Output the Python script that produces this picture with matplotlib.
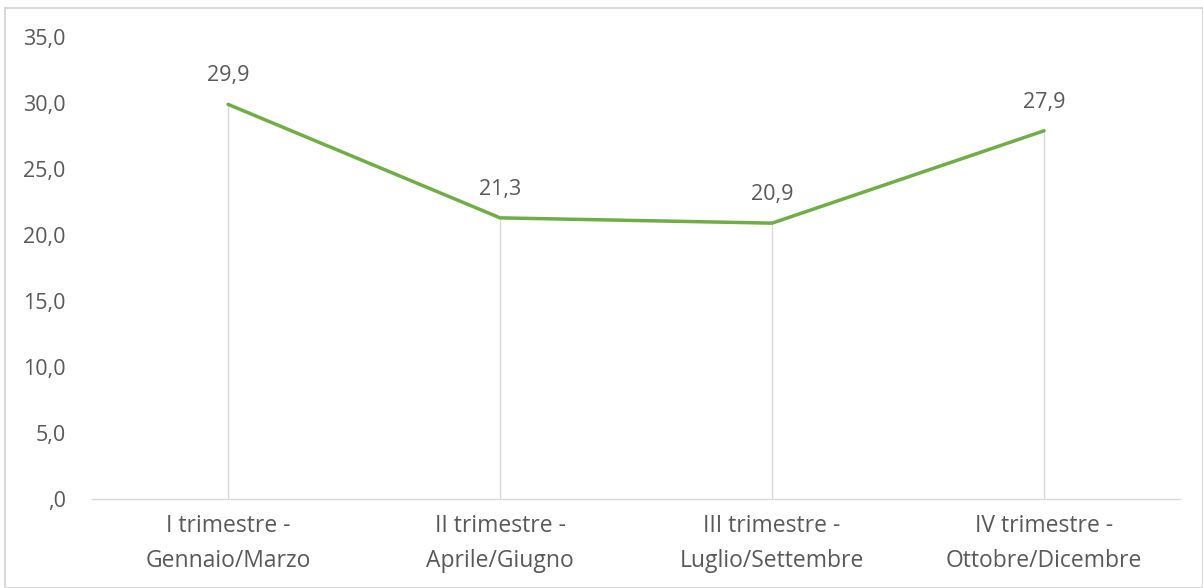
import matplotlib.pyplot as plt
from matplotlib.patches import Rectangle

plt.rcParams['font.family'] = ['Open Sans', 'DejaVu Sans']

categories = ['I trimestre -\nGennaio/Marzo', 'II trimestre -\nAprile/Giugno',
              'III trimestre -\nLuglio/Settembre', 'IV trimestre -\nOttobre/Dicembre']
values = [29.9, 21.3, 20.9, 27.9]
yticks = [0, 5, 10, 15, 20, 25, 30, 35]
ytick_labels = [',0', '5,0', '10,0', '15,0', '20,0', '25,0', '30,0', '35,0']

text_col = '#595959'
grid_col = '#D9D9D9'
green = '#70AD47'
fs = 15.5

fig = plt.figure(figsize=(12.03, 5.88), dpi=100)
ax = fig.add_axes([0.0765, 0.1514, 0.9045, 0.7856])

x = list(range(len(values)))
ax.vlines(x, 0, values, color=grid_col, lw=1, zorder=1)
ax.plot(x, values, color=green, lw=2.5, solid_capstyle='round', zorder=3)

for xi, v in zip(x, values):
    ax.annotate(f'{v:.1f}'.replace('.', ','), (xi, v), xytext=(0, 13),
                textcoords='offset points', ha='center', va='bottom',
                fontsize=fs, color=text_col)

ax.set_xlim(-0.5, len(values) - 0.5)
ax.set_ylim(0, 35)
ax.set_xticks(x)
ax.set_xticklabels(categories, fontsize=16.5, color=text_col, linespacing=1.6)
ax.set_yticks(yticks)
ax.set_yticklabels(ytick_labels, fontsize=fs, color=text_col)
ax.tick_params(axis='both', length=0)
ax.tick_params(axis='x', pad=11)
ax.tick_params(axis='y', pad=19)

for s in ['top', 'right', 'left']:
    ax.spines[s].set_visible(False)
ax.spines['bottom'].set_color(grid_col)
ax.spines['bottom'].set_linewidth(1)

fig.patches.append(Rectangle((5 / 1203, 0), 1 - 5 / 1203, 1 - 8 / 588,
                             transform=fig.transFigure, fill=False,
                             edgecolor=grid_col, lw=1.5))

fig.savefig('out.png', dpi=100)
